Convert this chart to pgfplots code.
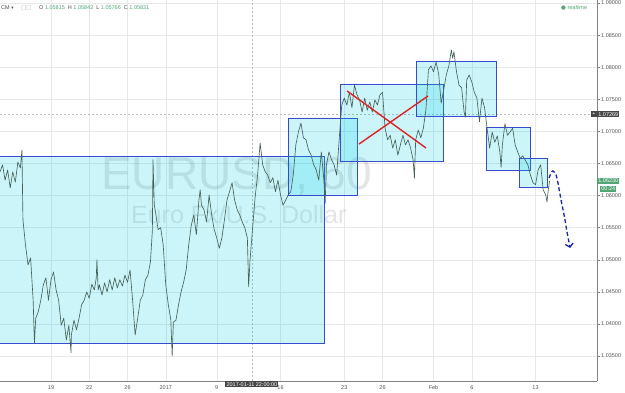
\documentclass[border=0pt]{standalone}
\usepackage{fontspec}
\setmainfont{Liberation Sans}
\newfontfamily\djv{DejaVu Sans}
\usepackage{pgfplots}
\pgfplotsset{compat=1.18}
\usetikzlibrary{arrows.meta}
\definecolor{boxfill}{RGB}{0,204,230}
\definecolor{boxline}{RGB}{55,75,205}
\definecolor{candle}{RGB}{70,98,88}
\definecolor{crossred}{RGB}{220,35,35}
\definecolor{arrowblue}{RGB}{25,35,175}
\definecolor{tvgreen}{RGB}{80,165,115}
\definecolor{tvdark}{RGB}{70,70,70}
\definecolor{ticktext}{RGB}{85,85,85}
\definecolor{gridc}{RGB}{232,232,232}
\definecolor{axisc}{RGB}{130,130,130}
\newcommand{\tf}{\fontsize{5.5}{6}\selectfont}
\begin{document}
\begin{tikzpicture}
\path[use as bounding box] (0,0) rectangle (625pt,392pt);
\begin{axis}[
  at={(0pt,11pt)}, anchor=south west,
  scale only axis, width=597pt, height=381pt,
  xmin=-4, xmax=42.82, ymin=1.03112, ymax=1.09047,
  axis x line*=bottom, axis y line*=right,
  axis line style={-, draw=axisc, line width=0.8pt},
  xtick={0,3,6,9,13,18,23,26,30,33,38},
  xticklabels={19,22,26,2017,9,16,23,26,Feb,6,13},
  ytick={1.035,1.04,1.045,1.05,1.055,1.06,1.065,1.07,1.075,1.08,1.085,1.09},
  yticklabels={1.03500,1.04000,1.04500,1.05000,1.05500,1.06000,1.06500,1.07000,1.07500,1.08000,1.08500,1.09000},
  grid=major, major grid style={draw=gridc, line width=0.5pt},
  tick align=outside, major tick length=3pt,
  xtick style={draw=none}, ytick style={draw=axisc, line width=0.5pt},
  ticklabel style={font=\tf, text=ticktext},
  xticklabel style={anchor=north, inner sep=1pt},
  yticklabel style={anchor=west, inner sep=1pt},
  clip mode=individual,
]
% watermark
\node[anchor=base west, inner sep=0pt, font=\fontsize{46}{46}\selectfont, text=black, text opacity=0.1] at (axis cs:3.92,1.06088) {EURUSD, 60};
\node[anchor=base west, inner sep=0pt, font=\fontsize{25}{25}\selectfont, text=black, text opacity=0.1] at (axis cs:6.27,1.05558) {Euro Fx/U.S. Dollar};
% crosshair
\addplot[gray!55, line width=0.5pt, dash pattern=on 2pt off 2pt] coordinates {(-4,1.07269) (42.82,1.07269)};
\addplot[gray!55, line width=0.5pt, dash pattern=on 2pt off 2pt] coordinates {(15.76,1.03112) (15.76,1.09047)};
% boxes
\addplot[draw=boxline, line width=0.9pt, fill=boxfill, fill opacity=0.2] coordinates {(-5,1.06617) (21.41,1.06617) (21.41,1.03704) (-5,1.03704)} -- cycle;
\addplot[draw=boxline, line width=0.9pt, fill=boxfill, fill opacity=0.2] coordinates {(18.59,1.07209) (24.00,1.07209) (24.00,1.06010) (18.59,1.06010)} -- cycle;
\addplot[draw=boxline, line width=0.9pt, fill=boxfill, fill opacity=0.2] coordinates {(22.67,1.07739) (30.75,1.07739) (30.75,1.06539) (22.67,1.06539)} -- cycle;
\addplot[draw=boxline, line width=0.9pt, fill=boxfill, fill opacity=0.2] coordinates {(28.63,1.08097) (34.90,1.08097) (34.90,1.07240) (28.63,1.07240)} -- cycle;
\addplot[draw=boxline, line width=0.9pt, fill=boxfill, fill opacity=0.2] coordinates {(34.12,1.07069) (37.57,1.07069) (37.57,1.06399) (34.12,1.06399)} -- cycle;
\addplot[draw=boxline, line width=0.9pt, fill=boxfill, fill opacity=0.2] coordinates {(36.71,1.06586) (38.90,1.06586) (38.90,1.06134) (36.71,1.06134)} -- cycle;
% price
\addplot[candle, line width=0.65pt, line join=round] coordinates {
(-4.0,1.0637) (-3.8,1.0648) (-3.6,1.0624) (-3.4,1.0640) (-3.2,1.0612) (-3.0,1.0637) (-2.8,1.0621) (-2.6,1.0652) (-2.4,1.0643) (-2.28,1.0671) (-2.2,1.0562) (-2.0,1.0523) (-1.8,1.0492) (-1.6,1.0503) (-1.4,1.0437) (-1.3,1.0370) (-1.2,1.0409) (-1.0,1.0419) (-0.8,1.0437) (-0.6,1.0461) (-0.4,1.0472) (-0.2,1.0437) (0.0,1.0469) (0.2,1.0481) (0.4,1.0453) (0.6,1.0437) (0.8,1.0398) (1.0,1.0409) (1.2,1.0375) (1.4,1.0398) (1.57,1.0355) (1.6,1.0383) (1.8,1.0406) (2.0,1.0391) (2.2,1.0409) (2.4,1.0430) (2.6,1.0437) (2.8,1.0450) (3.0,1.0440) (3.2,1.0462) (3.4,1.0453) (3.55,1.0472) (3.6,1.0500) (3.7,1.0453) (3.8,1.0461) (4.0,1.0445) (4.2,1.0464) (4.4,1.0450) (4.6,1.0469) (4.8,1.0453) (5.0,1.0472) (5.2,1.0456) (5.4,1.0469) (5.6,1.0459) (5.8,1.0476) (6.0,1.0465) (6.2,1.0484) (6.4,1.0437) (6.6,1.0383) (6.8,1.0409) (7.0,1.0437) (7.2,1.0445) (7.4,1.0469) (7.6,1.0476) (7.8,1.0497) (7.95,1.0546) (8.0,1.0656) (8.1,1.0585) (8.2,1.0574) (8.4,1.0547) (8.6,1.0550) (8.8,1.0523) (9.0,1.0461) (9.2,1.0430) (9.4,1.0406) (9.5,1.0350) (9.6,1.0403) (9.8,1.0406) (10.0,1.0430) (10.2,1.0450) (10.4,1.0465) (10.6,1.0484) (10.8,1.0523) (11.0,1.0554) (11.2,1.0570) (11.4,1.0539) (11.6,1.0593) (11.7,1.0609) (11.8,1.0585) (12.0,1.0578) (12.2,1.0559) (12.4,1.0601) (12.6,1.0570) (12.8,1.0547) (13.0,1.0534) (13.2,1.0518) (13.4,1.0534) (13.6,1.0562) (13.8,1.0593) (14.0,1.0606) (14.2,1.0620) (14.4,1.0593) (14.6,1.0578) (14.8,1.0570) (15.0,1.0559) (15.2,1.0550) (15.4,1.0534) (15.5,1.0458) (15.6,1.0497) (15.8,1.0547) (16.0,1.0596) (16.2,1.0632) (16.4,1.0682) (16.6,1.0648) (16.8,1.0637) (17.0,1.0632) (17.2,1.0620) (17.4,1.0628) (17.6,1.0606) (17.8,1.0624) (18.0,1.0601) (18.2,1.0585) (18.4,1.0593) (18.6,1.0601) (18.8,1.0606) (19.0,1.0632) (19.2,1.0679) (19.4,1.0699) (19.6,1.0713) (19.8,1.0690) (20.0,1.0687) (20.2,1.0671) (20.4,1.0663) (20.6,1.0648) (20.8,1.0640) (21.0,1.0624) (21.2,1.0668) (21.4,1.0624) (21.5,1.0588) (21.6,1.0648) (21.8,1.0668) (22.0,1.0656) (22.2,1.0648) (22.4,1.0632) (22.6,1.0687) (22.8,1.0741) (23.0,1.0752) (23.2,1.0741) (23.4,1.0761) (23.6,1.0737) (23.8,1.0772) (24.0,1.0757) (24.2,1.0749) (24.4,1.0730) (24.6,1.0752) (24.8,1.0733) (25.0,1.0746) (25.2,1.0730) (25.4,1.0749) (25.6,1.0741) (25.8,1.0757) (26.0,1.0761) (26.2,1.0705) (26.4,1.0687) (26.6,1.0694) (26.8,1.0674) (27.0,1.0687) (27.2,1.0663) (27.4,1.0679) (27.6,1.0694) (27.8,1.0679) (28.0,1.0687) (28.2,1.0674) (28.4,1.0656) (28.5,1.0627) (28.6,1.0687) (28.8,1.0702) (29.0,1.0690) (29.2,1.0705) (29.4,1.0733) (29.6,1.0796) (29.8,1.0802) (30.0,1.0793) (30.2,1.0808) (30.4,1.0790) (30.6,1.0744) (30.8,1.0765) (31.0,1.0788) (31.2,1.0802) (31.4,1.0827) (31.5,1.0814) (31.6,1.0824) (31.8,1.0793) (32.0,1.0772) (32.2,1.0768) (32.4,1.0730) (32.5,1.0722) (32.6,1.0780) (32.8,1.0788) (33.0,1.0777) (33.2,1.0761) (33.4,1.0752) (33.6,1.0715) (33.8,1.0752) (34.0,1.0737) (34.2,1.0705) (34.4,1.0674) (34.6,1.0699) (34.8,1.0683) (35.0,1.0693) (35.2,1.0668) (35.3,1.0644) (35.4,1.0679) (35.6,1.0712) (35.8,1.0694) (36.0,1.0699) (36.2,1.0705) (36.4,1.0679) (36.6,1.0668) (36.8,1.0658) (37.0,1.0662) (37.2,1.0655) (37.4,1.0648) (37.6,1.0632) (37.8,1.0620) (38.0,1.0617) (38.2,1.0640) (38.4,1.0648) (38.6,1.0609) (38.8,1.0601) (38.9,1.0590) (39.0,1.0609) (39.1,1.0623)
};
% red cross
\addplot[crossred, line width=1.4pt] coordinates {(23.22,1.07630) (29.41,1.06742)};
\addplot[crossred, line width=1.4pt] coordinates {(24.16,1.06804) (29.57,1.07552)};
% projected move
\addplot[arrowblue, line width=1.3pt, dash pattern=on 4pt off 2.5pt, smooth, -{Straight Barb[length=3.5pt,width=8pt]}] coordinates {(39.06,1.06274) (39.22,1.06352) (39.37,1.06384) (39.61,1.06321) (39.76,1.06197) (40.00,1.05932) (40.24,1.05698) (40.47,1.05433) (40.71,1.05184)};
% header
\node[anchor=west, inner sep=0pt, font=\tf, text=tvdark] at (axis cs:-3.92,1.08922) {CM {\djv\fontsize{4.5}{5}\selectfont ▾}};
\node[anchor=west, inner sep=0pt, font=\tf, text=gray!60] at (axis cs:-2.35,1.08922) {{\djv □□}};
\node[anchor=west, inner sep=0pt, font=\tf, text=tvdark] at (axis cs:-0.94,1.08922) {O \textcolor{tvgreen}{1.05815}\ \ H \textcolor{tvgreen}{1.05842}\ \ L \textcolor{tvgreen}{1.05766}\ \ C \textcolor{tvgreen}{1.05831}};
\node[anchor=west, inner sep=0pt, font=\tf, text=tvgreen] at (axis cs:40.0,1.08922) {{\djv ●} realtime};
% right-side labels
\node[anchor=west, fill=tvdark, text=white, inner sep=1.2pt, font=\tf] at (axis cs:42.82,1.07269) {1.07269};
\node[anchor=east, fill=tvdark, text=white, inner sep=1.2pt, font=\tf] at (axis cs:42.82,1.07269) {+};
\node[anchor=west, fill=tvgreen, text=white, inner sep=1.2pt, font=\tf] at (axis cs:42.82,1.06230) {1.06230};
\node[anchor=west, fill=tvgreen, text=white, inner sep=1.2pt, font=\tf, xshift=3pt] at (axis cs:42.82,1.06103) {00:24};
\node[anchor=north, fill=tvdark, text=white, inner sep=1.2pt, font=\tf] at (axis cs:15.76,1.03112) {2017-01-11 22:00:00};
\end{axis}
\end{tikzpicture}
\end{document}
